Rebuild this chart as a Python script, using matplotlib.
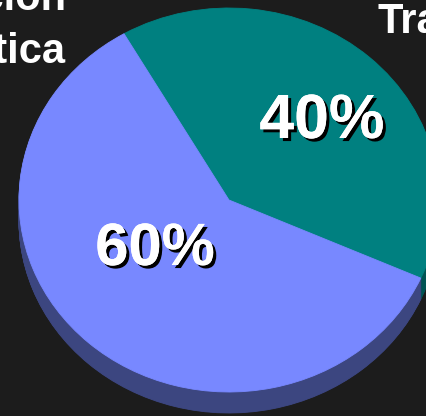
import matplotlib
matplotlib.use("Agg")
import matplotlib.pyplot as plt
import matplotlib.patheffects as pe
import numpy as np

# Data
labels = ["Transmisión", "Comunicación\nPolítica"]
values = [40, 60]
pct_labels = ["40%", "60%"]
top_colors = ["#008080", "#7888FF"]
side_colors = ["#005454", "#3C4680"]

W, H = 426, 416
fig = plt.figure(figsize=(W / 100, H / 100), dpi=100)
bg = "#1C1C1C"
fig.patch.set_facecolor(bg)
ax = fig.add_axes([0, 0, 1, 1])
ax.set_facecolor(bg)

cx, cy, rx, ry = 229, 200, 210, 192   # pixel geometry of the top face
depth = 21 / ry
start = -24

# 3D side: stacked darker layers
for d in np.linspace(depth, 0.004, 40):
    ax.pie(values, colors=side_colors, startangle=start, center=(0, -d),
           radius=1, frame=True, wedgeprops=dict(linewidth=0.6))
    for w, c in zip(ax.patches[-2:], side_colors):
        w.set_edgecolor(c)

# top face
wedges, _ = ax.pie(values, colors=top_colors, startangle=start, center=(0, 0),
                   radius=1, frame=True, wedgeprops=dict(linewidth=0.6))
for w, c in zip(wedges, top_colors):
    w.set_edgecolor(c)

ax.set_aspect("auto")
ax.set_xlim((0 - cx) / rx, (W - cx) / rx)
ax.set_ylim((cy - H) / ry, cy / ry)
ax.axis("off")

def fx(x):
    return x / W

def fy(y):
    return 1 - y / H

shadow = [pe.withSimplePatchShadow(offset=(2.2, -2.2), shadow_rgbFace="black",
                                    alpha=1.0), pe.Normal()]

fig.text(fx(322), fy(138), pct_labels[0], color="white", fontsize=45,
         fontweight="bold", family="Liberation Sans", ha="center",
         va="baseline", path_effects=shadow)
fig.text(fx(155), fy(265), pct_labels[1], color="white", fontsize=43,
         fontweight="bold", family="Liberation Sans", ha="center",
         va="baseline", path_effects=shadow)

# category labels (cropped at the figure edges)
fig.text(fx(378), fy(33), labels[0], color="white", fontsize=30,
         fontweight="bold", family="Liberation Sans", ha="left", va="baseline")
l1, l2 = labels[1].split("\n")
fig.text(fx(66), fy(10), l1, color="white", fontsize=30,
         fontweight="bold", family="Liberation Sans", ha="right", va="baseline")
fig.text(fx(65), fy(63), l2, color="white", fontsize=30,
         fontweight="bold", family="Liberation Sans", ha="right", va="baseline")

fig.savefig("out.png", dpi=100, facecolor=bg)
